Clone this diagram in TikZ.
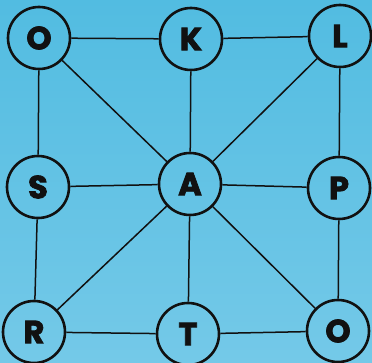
\documentclass[tikz,border=0pt]{standalone}
\usepackage{fontspec}
\newfontfamily\heavy[BoldFeatures={FakeBold=2.5}]{Poppins}
\definecolor{bgtop}{HTML}{52BCE1}
\definecolor{bgbot}{HTML}{74C9E8}
\definecolor{ink}{HTML}{111111}
\begin{document}
\begin{tikzpicture}[x=1pt,y=-1pt,
  vtx/.style={circle,draw=ink,line width=2.6pt,minimum size=62pt,inner sep=0pt,
    font=\heavy\bfseries\fontsize{32}{32}\selectfont,text=ink},
  edge/.style={draw=ink,line width=1.5pt}]
\shade[top color=bgtop,bottom color=bgbot] (0,0) rectangle (372,363);
\useasboundingbox (0,0) rectangle (372,363);
\node[vtx] (o1) at (39,38) {O};
\node[vtx] (k) at (191,39) {K};
\node[vtx] (l) at (340,36) {L};
\node[vtx] (s) at (38,187) {S};
\node[vtx] (a) at (190,184) {A};
\node[vtx] (p) at (339,188) {P};
\node[vtx] (r) at (34,332) {R};
\node[vtx] (t) at (188,334) {T};
\node[vtx] (o2) at (338,331) {O};
\foreach \u/\v in {o1/k,k/l,o1/s,s/r,r/t,t/o2,o2/p,p/l,o1/a,k/a,l/a,s/a,a/p,a/r,a/t,a/o2}
  \draw[edge] (\u) -- (\v);
\end{tikzpicture}
\end{document}
